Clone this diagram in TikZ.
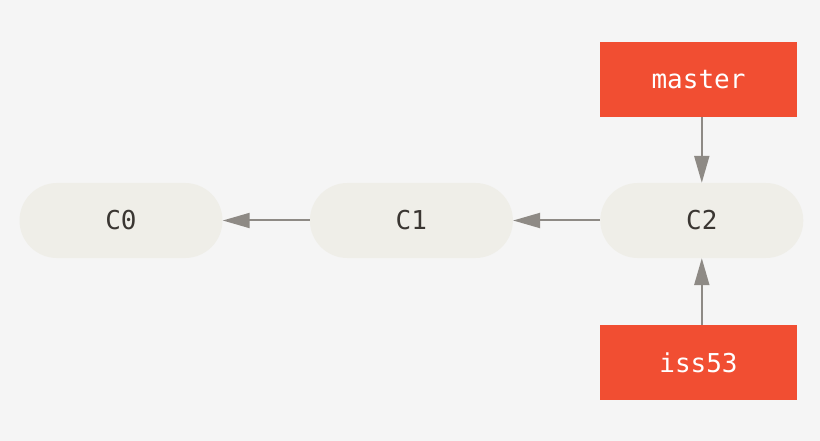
\documentclass[tikz,border=0pt]{standalone}
\usepackage{fontspec}
\setmonofont{DejaVu Sans Mono}
\usepackage{xcolor}
\usepackage{tikz}
\usetikzlibrary{arrows.meta,positioning}
\definecolor{bggray}{HTML}{F5F5F5}
\definecolor{commitfill}{HTML}{EFEEE8}
\definecolor{commitink}{HTML}{3A3632}
\definecolor{gitorange}{HTML}{F14E32}
\definecolor{arrowgray}{HTML}{8E8A85}
\tikzset{
  commit/.style={fill=commitfill,text=commitink,rounded corners=37.5pt,minimum width=203pt,minimum height=75pt,font=\ttfamily\fontsize{26}{30}\selectfont},
  branch/.style={fill=gitorange,text=white,minimum width=197pt,minimum height=75pt,font=\ttfamily\fontsize{26}{30}\selectfont},
  ptr/.style={draw=arrowgray,line width=2pt,-{Triangle[length=27pt,width=15pt]}}
}
\begin{document}
\begin{tikzpicture}[x=1pt,y=-1pt]
    \fill[bggray] (0,0) rectangle (820,441);
    \useasboundingbox (0,0) rectangle (820,441);
    % commits
    \node[commit] (c0) at (121,220.5) {C0};
    \node[commit,right=87pt of c0] (c1) {C1};
    \node[commit,right=87pt of c1] (c2) {C2};
    % branches
    \node[branch] (master) at (698.5,79.5) {master};
    \node[branch] (iss53) at (698.5,362.5) {iss53};
    % parents
    \draw[ptr] (c1) -- (c0);
    \draw[ptr] (c2) -- (c1);
    \draw[ptr] (master.south -| c2) -- (c2);
    \draw[ptr] (iss53.north -| c2) -- (c2);
\end{tikzpicture}
\end{document}
